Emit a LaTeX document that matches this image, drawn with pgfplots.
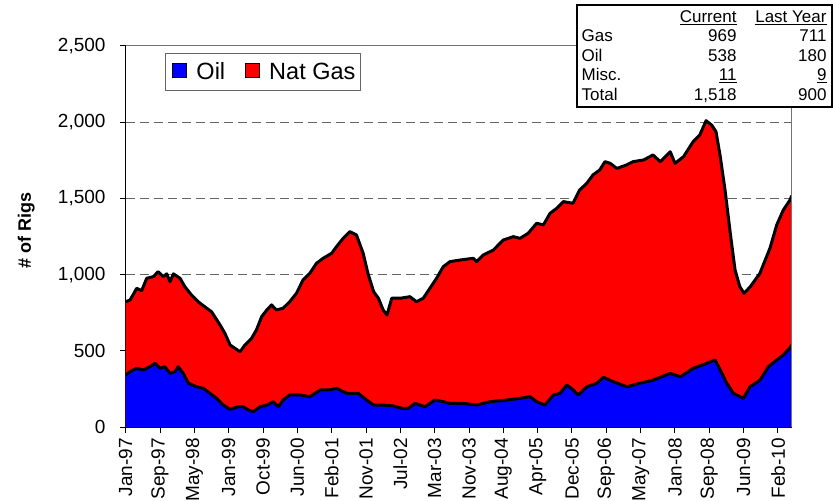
\documentclass[border=0pt]{standalone}
\usepackage{pgfplots}
\pgfplotsset{compat=1.18}
\usepackage{pgfplotstable}
\usepackage{fontspec}
\setmainfont{Liberation Sans}

\pgfplotstableread{
w v
0 822
4.5 833
8 870
11.5 910
16.8 895
22 976
29 987
34 1019
39.4 987
43 1005
46.5 953
50 1005
57 976
62 921
69 866
76 822
85 779
90 757
99 669
104 615
109.5 538
114.6 516
120 494
125 538
132 582
137 636
142.6 724
148 768
153 801
158 768
165 779
172 822
179 877
186 965
193 1008
200 1074
207 1107
216 1140
221 1183
228 1238
235 1282
242 1260
249 1140
254 1008
260 888
265 845
270 768
274 735
279 845
288 845
298 855
305 822
312 845
319 910
326 976
333 1052
340 1085
351 1096
364.5 1107
368 1085
375 1129
385.5 1161
396 1227
406.5 1249
413.5 1238
422 1271
431 1337
438 1326
445 1402
452 1435
459 1479
469 1468
476 1555
483.5 1599
490 1654
497 1686
502.6 1741
508 1730
515 1697
525 1719
532 1741
543 1752
553 1785
560.6 1741
571 1806
576 1730
585 1774
595 1872
602 1916
608.6 2010
614.5 1981
619 1938
623.5 1774
628.5 1555
634 1271
639 1030
644 921
648.4 877
655 921
665 1008
675.6 1173
682.7 1326
689.6 1424
696.7 1490
698.4 1518
}\totaltab

\pgfplotstableread{
w v
0 341
4.5 363
11.5 385
18.5 374
25.5 396
30.7 418
36 385
41 396
46.5 352
51.7 363
55 396
60.4 352
65.7 287
74.5 264
81.4 254
88.4 221
95.4 188
102.4 144
109.4 116
118 133
123 133
128.6 112
133.8 101
140.8 133
148 144
154.8 166
160 133
165 177
172 210
183 210
193 199
204 243
214 243
221 254
232 221
244 221
252.7 177
260 144
270 144
280.6 138
289.4 123
296.4 123
303.4 155
314 133
324 177
333 166
340 155
354 155
368 144
382 166
399.6 177
413.5 188
424 199
431 166
439.7 144
448.4 210
455.4 221
462.5 276
469.4 243
474.6 210
483.5 264
494 287
500.9 326
511.3 298
525.4 264
539.3 287
553.3 308
571 352
581.5 330
595.2 385
609.3 418
618 440
623.5 374
630.3 287
637.2 221
647.7 188
654.7 264
665.2 308
674 396
682.7 440
689.6 473
696.7 520
698.4 538
}\oiltab

\begin{document}
\begin{tikzpicture}
\begin{axis}[
  at={(0pt,0pt)}, anchor=south west,
  scale only axis, width=666pt, height=381pt,
  xmin=0, xmax=698.4, ymin=0, ymax=2500,
  axis x line*=bottom, axis y line*=left,
  axis line style={black, line width=1.2pt, -},
  xtick={0,36,...,684},
  xticklabels={Jan-97,Sep-97,May-98,Jan-99,Oct-99,Jun-00,Feb-01,Nov-01,Jul-02,Mar-03,Nov-03,Aug-04,Apr-05,Dec-05,Sep-06,May-07,Jan-08,Sep-08,Jun-09,Feb-10},
  ytick={0,500,...,2500},
  scaled y ticks=false,
  ymajorgrids,
  major grid style={black!60, line width=1pt, dash pattern=on 9pt off 5pt},
  tick align=outside, major tick length=6pt,
  tick style={black, line width=1pt},
  xticklabel style={rotate=90, anchor=east, inner sep=0pt, font=\fontsize{19}{21}\selectfont},
  yticklabel style={anchor=east, inner sep=0pt, font=\fontsize{19}{21}\selectfont},
  xticklabel shift=5pt,
  yticklabel shift=14pt,
  legend columns=2,
  legend image code/.code={\path[draw=none, fill=none] (-4pt,0pt) -- (22pt,0pt);\draw[#1, line width=0.8pt] (0pt,-6pt) rectangle (14pt,8pt);},
  legend style={at={(0.059,0.9816)}, anchor=north west, draw=black!60, line width=1pt,
    font=\fontsize{23.5}{26}\selectfont, inner xsep=3pt, inner ysep=7pt,
    /tikz/every even column/.append style={column sep=14pt}},
  /pgf/number format/1000 sep={,},
  /pgf/number format/assume math mode=true,
]
\addplot[fill=red, draw=none, forget plot] table {\totaltab} \closedcycle;
\addplot[fill=blue, draw=none, forget plot] table {\oiltab} \closedcycle;
\addplot[black, line width=3pt, line join=round, forget plot] table {\totaltab};
\addplot[black, line width=3pt, line join=round, forget plot] table {\oiltab};
\addlegendimage{fill=blue, draw=black}
\addlegendentry{Oil}
\addlegendimage{fill=red, draw=black}
\addlegendentry{Nat Gas\hspace{9pt}}
\end{axis}
\draw[black!55, line width=1pt] (0pt,381pt) -- (666pt,381pt) -- (666pt,0pt);
\node[rotate=90, anchor=base, font=\bfseries\fontsize{18}{20}\selectfont] at (-94.7pt,196.5pt) {\# of Rigs};
% summary table
\draw[black, line width=2pt, fill=white] (451pt,320.3pt) rectangle (706pt,422pt);
\begin{scope}[every node/.style={inner sep=0pt, font=\fontsize{17}{19}\selectfont}]
\node[anchor=base east] at (611pt,404pt) {\underline{Current}};
\node[anchor=base east] at (701pt,404pt) {\underline{Last Year}};
\node[anchor=base west] at (455.8pt,385pt) {Gas};
\node[anchor=base west] at (455.8pt,365pt) {Oil};
\node[anchor=base west] at (455.8pt,346pt) {Misc.};
\node[anchor=base west] at (455.8pt,326pt) {Total};
\node[anchor=base east] at (611pt,385pt) {969};
\node[anchor=base east] at (611pt,365pt) {538};
\node[anchor=base east] at (611pt,346pt) {\underline{11}};
\node[anchor=base east] at (611pt,326pt) {1,518};
\node[anchor=base east] at (701pt,385pt) {711};
\node[anchor=base east] at (701pt,365pt) {180};
\node[anchor=base east] at (701pt,346pt) {\underline{9}};
\node[anchor=base east] at (701pt,326pt) {900};
\end{scope}
\pgfresetboundingbox
\path[use as bounding box] (-125.7pt,-73pt) rectangle (708.3pt,427pt);
\end{tikzpicture}
\end{document}
